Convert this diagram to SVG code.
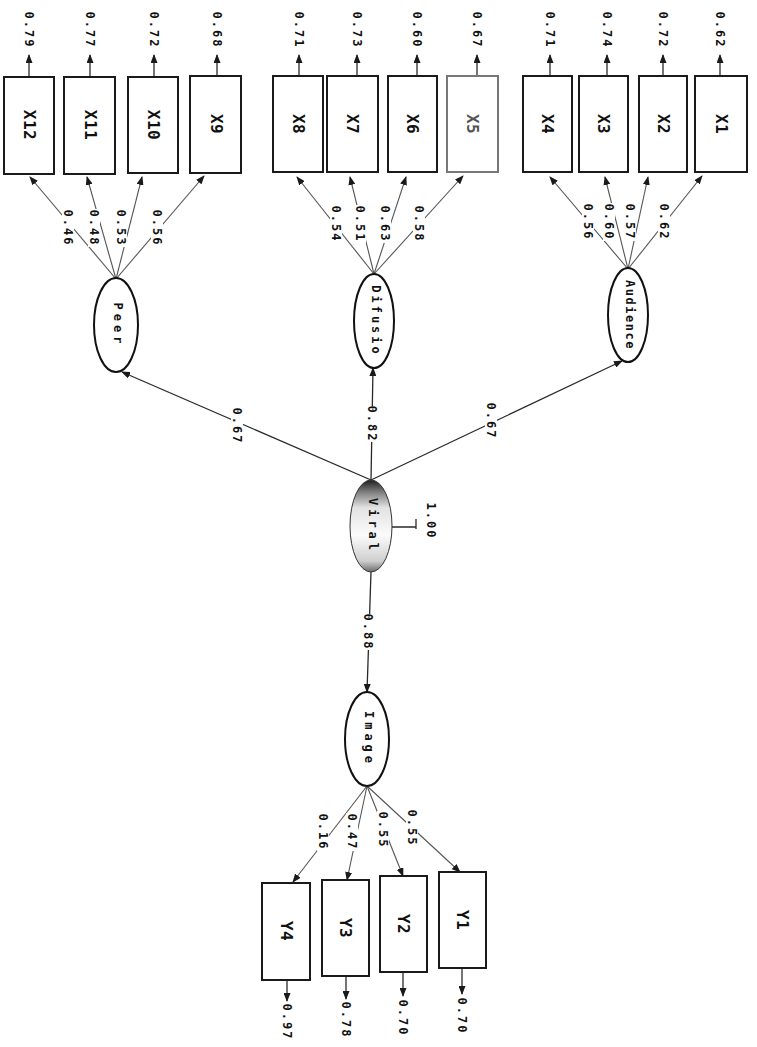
<svg xmlns="http://www.w3.org/2000/svg" width="757" height="1047" viewBox="0 0 757 1047">
<style>
.box{fill:#fff;stroke:#1a1a1a;stroke-width:2}
.boxg{fill:#fff;stroke:#777;stroke-width:2}
.lat{fill:#fff;stroke:#111;stroke-width:2}
.ln{stroke:#2a2a2a;stroke-width:1.3;fill:none}
.lnl{stroke:#555;stroke-width:1.1;fill:none}
.t{font-family:"DejaVu Sans Mono","Liberation Mono",monospace;font-weight:bold;fill:#111;text-anchor:middle;dominant-baseline:central}
.var{font-size:16px;letter-spacing:0.5px}
.lv{font-size:12px;letter-spacing:4px}
.num{font-size:12px;letter-spacing:2px}
.bg{fill:#fff}
</style>
<defs>
<marker id="ah" markerUnits="userSpaceOnUse" markerWidth="9" markerHeight="7" refX="8" refY="3.5" orient="auto"><path d="M0,0 L9,3.5 L0,7 z" fill="#1a1a1a"/></marker>
<linearGradient id="vg" x1="0" y1="0" x2="0" y2="1">
<stop offset="0" stop-color="#1e1e1e"/>
<stop offset="0.12" stop-color="#777"/>
<stop offset="0.3" stop-color="#e2e2e2"/>
<stop offset="0.6" stop-color="#fbfbfb"/>
<stop offset="0.88" stop-color="#cfcfcf"/>
<stop offset="1" stop-color="#6a6a6a"/>
</linearGradient>
</defs>
<rect width="757" height="1047" fill="#fff"/>

<g id="connectors">
<path class="ln" marker-end="url(#ah)" d="M29,76 V55"/>
<path class="ln" marker-end="url(#ah)" d="M90,76 V55"/>
<path class="ln" marker-end="url(#ah)" d="M154,76 V55"/>
<path class="ln" marker-end="url(#ah)" d="M217,75 V55"/>
<path class="ln" marker-end="url(#ah)" d="M299,76 V55"/>
<path class="ln" marker-end="url(#ah)" d="M357,76 V55"/>
<path class="ln" marker-end="url(#ah)" d="M417,76 V55"/>
<path class="ln" marker-end="url(#ah)" d="M477,76 V55"/>
<path class="ln" marker-end="url(#ah)" d="M550,76 V55"/>
<path class="ln" marker-end="url(#ah)" d="M607,76 V55"/>
<path class="ln" marker-end="url(#ah)" d="M663,76 V55"/>
<path class="ln" marker-end="url(#ah)" d="M720,76 V55"/>
<path class="ln" marker-end="url(#ah)" d="M287,980 V1001"/>
<path class="ln" marker-end="url(#ah)" d="M346,976 V999"/>
<path class="ln" marker-end="url(#ah)" d="M403,972 V996"/>
<path class="ln" marker-end="url(#ah)" d="M462,968 V994"/>
<path class="lnl" marker-end="url(#ah)" d="M116,279 L30,177"/>
<path class="lnl" marker-end="url(#ah)" d="M116,279 L87,177"/>
<path class="lnl" marker-end="url(#ah)" d="M116,279 L142,177"/>
<path class="lnl" marker-end="url(#ah)" d="M116,279 L204,176"/>
<path class="lnl" marker-end="url(#ah)" d="M374,274 L297,177"/>
<path class="lnl" marker-end="url(#ah)" d="M374,274 L350,177"/>
<path class="lnl" marker-end="url(#ah)" d="M374,274 L406,177"/>
<path class="lnl" marker-end="url(#ah)" d="M374,274 L463,176"/>
<path class="lnl" marker-end="url(#ah)" d="M628,269 L550,177"/>
<path class="lnl" marker-end="url(#ah)" d="M628,269 L605,177"/>
<path class="lnl" marker-end="url(#ah)" d="M628,269 L648,177"/>
<path class="lnl" marker-end="url(#ah)" d="M628,269 L702,176"/>
<path class="lnl" marker-end="url(#ah)" d="M367,786 L293,882"/>
<path class="lnl" marker-end="url(#ah)" d="M367,786 L347,880"/>
<path class="lnl" marker-end="url(#ah)" d="M367,786 L403,876"/>
<path class="lnl" marker-end="url(#ah)" d="M367,786 L460,872"/>
<path class="ln" marker-end="url(#ah)" d="M371,480 L122,372"/>
<path class="ln" marker-end="url(#ah)" d="M371,480 L373,368"/>
<path class="ln" marker-end="url(#ah)" d="M371,480 L622,361"/>
<path class="ln" marker-end="url(#ah)" d="M371,572 L367,692"/>
<path class="ln" d="M392,527 H416 M416,519 V529"/>
</g>

<g id="labels">
<g transform="translate(29,30) rotate(90)"><text class="t num">0.79</text></g>
<g transform="translate(90,30) rotate(90)"><text class="t num">0.77</text></g>
<g transform="translate(154,30) rotate(90)"><text class="t num">0.72</text></g>
<g transform="translate(217,30) rotate(90)"><text class="t num">0.68</text></g>
<g transform="translate(299,30) rotate(90)"><text class="t num">0.71</text></g>
<g transform="translate(357,30) rotate(90)"><text class="t num">0.73</text></g>
<g transform="translate(417,30) rotate(90)"><text class="t num">0.60</text></g>
<g transform="translate(477,30) rotate(90)"><text class="t num">0.67</text></g>
<g transform="translate(550,30) rotate(90)"><text class="t num">0.71</text></g>
<g transform="translate(607,30) rotate(90)"><text class="t num">0.74</text></g>
<g transform="translate(663,30) rotate(90)"><text class="t num">0.72</text></g>
<g transform="translate(720,30) rotate(90)"><text class="t num">0.62</text></g>
<g transform="translate(287,1022) rotate(90)"><text class="t num">0.97</text></g>
<g transform="translate(346,1020) rotate(90)"><text class="t num">0.78</text></g>
<g transform="translate(403,1018) rotate(90)"><text class="t num">0.70</text></g>
<g transform="translate(462,1016) rotate(90)"><text class="t num">0.70</text></g>
<g transform="translate(68,228) rotate(90)"><rect class="bg" x="-19" y="-6" width="38" height="12"/><text class="t num">0.46</text></g>
<g transform="translate(94,228) rotate(90)"><rect class="bg" x="-19" y="-6" width="38" height="12"/><text class="t num">0.48</text></g>
<g transform="translate(121,228) rotate(90)"><rect class="bg" x="-19" y="-6" width="38" height="12"/><text class="t num">0.53</text></g>
<g transform="translate(157,228) rotate(90)"><rect class="bg" x="-19" y="-6" width="38" height="12"/><text class="t num">0.56</text></g>
<g transform="translate(336,224) rotate(90)"><rect class="bg" x="-19" y="-6" width="38" height="12"/><text class="t num">0.54</text></g>
<g transform="translate(360,224) rotate(90)"><rect class="bg" x="-19" y="-6" width="38" height="12"/><text class="t num">0.51</text></g>
<g transform="translate(385,224) rotate(90)"><rect class="bg" x="-19" y="-6" width="38" height="12"/><text class="t num">0.63</text></g>
<g transform="translate(419,224) rotate(90)"><rect class="bg" x="-19" y="-6" width="38" height="12"/><text class="t num">0.58</text></g>
<g transform="translate(588,222) rotate(90)"><rect class="bg" x="-19" y="-6" width="38" height="12"/><text class="t num">0.56</text></g>
<g transform="translate(609,222) rotate(90)"><rect class="bg" x="-19" y="-6" width="38" height="12"/><text class="t num">0.60</text></g>
<g transform="translate(630,222) rotate(90)"><rect class="bg" x="-19" y="-6" width="38" height="12"/><text class="t num">0.57</text></g>
<g transform="translate(664,222) rotate(90)"><rect class="bg" x="-19" y="-6" width="38" height="12"/><text class="t num">0.62</text></g>
<g transform="translate(323,832) rotate(90)"><rect class="bg" x="-19" y="-6" width="38" height="12"/><text class="t num">0.16</text></g>
<g transform="translate(352,832) rotate(90)"><rect class="bg" x="-19" y="-6" width="38" height="12"/><text class="t num">0.47</text></g>
<g transform="translate(383,830) rotate(90)"><rect class="bg" x="-19" y="-6" width="38" height="12"/><text class="t num">0.55</text></g>
<g transform="translate(412,828) rotate(90)"><rect class="bg" x="-19" y="-6" width="38" height="12"/><text class="t num">0.55</text></g>
<g transform="translate(237,426) rotate(90)"><rect class="bg" x="-18" y="-6" width="36" height="12"/><text class="t num">0.67</text></g>
<g transform="translate(372,424) rotate(90)"><rect class="bg" x="-18" y="-6" width="36" height="12"/><text class="t num">0.82</text></g>
<g transform="translate(491,421) rotate(90)"><rect class="bg" x="-18" y="-6" width="36" height="12"/><text class="t num">0.67</text></g>
<g transform="translate(368,632) rotate(90)"><rect class="bg" x="-18" y="-6" width="36" height="12"/><text class="t num">0.88</text></g>
<g transform="translate(431,521) rotate(90)"><text class="t num">1.00</text></g>
</g>

<g id="X12"><rect class="box" x="4" y="77" width="50" height="97"/><text class="t var" transform="translate(29,125) rotate(90)">X12</text></g>
<g id="X11"><rect class="box" x="64" y="77" width="51" height="97"/><text class="t var" transform="translate(90,125) rotate(90)">X11</text></g>
<g id="X10"><rect class="box" x="128" y="77" width="50" height="96"/><text class="t var" transform="translate(153,125) rotate(90)">X10</text></g>
<g id="X9"><rect class="box" x="190" y="76" width="51" height="97"/><text class="t var" transform="translate(216,124) rotate(90)">X9</text></g>
<g id="X8"><rect class="box" x="273" y="76" width="50" height="96"/><text class="t var" transform="translate(298,124) rotate(90)">X8</text></g>
<g id="X7"><rect class="box" x="327" y="76" width="51" height="96"/><text class="t var" transform="translate(352,124) rotate(90)">X7</text></g>
<g id="X6"><rect class="box" x="388" y="76" width="49" height="96"/><text class="t var" transform="translate(412,124) rotate(90)">X6</text></g>
<g id="X5"><rect class="boxg" x="447" y="76" width="51" height="96"/><text class="t var" style="fill:#555" transform="translate(472,124) rotate(90)">X5</text></g>
<g id="X4"><rect class="box" x="523" y="76" width="49" height="96"/><text class="t var" transform="translate(547,124) rotate(90)">X4</text></g>
<g id="X3"><rect class="box" x="579" y="76" width="49" height="96"/><text class="t var" transform="translate(603,124) rotate(90)">X3</text></g>
<g id="X2"><rect class="box" x="639" y="76" width="48" height="96"/><text class="t var" transform="translate(663,124) rotate(90)">X2</text></g>
<g id="X1"><rect class="box" x="695" y="76" width="52" height="96"/><text class="t var" transform="translate(721,124) rotate(90)">X1</text></g>

<g id="Peer"><ellipse class="lat" cx="116" cy="325" rx="22" ry="47"/><text class="t lv" transform="translate(118,325) rotate(90)">Peer</text></g>
<g id="Difusio"><ellipse class="lat" cx="374" cy="321" rx="20" ry="47"/><text class="t lv" style="letter-spacing:3px" transform="translate(376,321) rotate(90)">Difusio</text></g>
<g id="Audience"><ellipse class="lat" cx="628" cy="315" rx="20" ry="47"/><text class="t lv" style="letter-spacing:1.5px" transform="translate(630,315) rotate(90)">Audience</text></g>
<g id="Viral"><ellipse cx="371" cy="526" rx="21" ry="46" fill="url(#vg)" stroke="#333" stroke-width="1"/><text class="t lv" transform="translate(373,526) rotate(90)">Viral</text></g>
<g id="Image"><ellipse class="lat" cx="367" cy="739" rx="22" ry="47"/><text class="t lv" transform="translate(369,739) rotate(90)">Image</text></g>

<g id="Y4"><rect class="box" x="262" y="883" width="48" height="97"/><text class="t var" transform="translate(286,931) rotate(90)">Y4</text></g>
<g id="Y3"><rect class="box" x="322" y="880" width="47" height="96"/><text class="t var" transform="translate(345,928) rotate(90)">Y3</text></g>
<g id="Y2"><rect class="box" x="380" y="876" width="47" height="96"/><text class="t var" transform="translate(403,924) rotate(90)">Y2</text></g>
<g id="Y1"><rect class="box" x="439" y="872" width="47" height="96"/><text class="t var" transform="translate(462,920) rotate(90)">Y1</text></g>
</svg>
